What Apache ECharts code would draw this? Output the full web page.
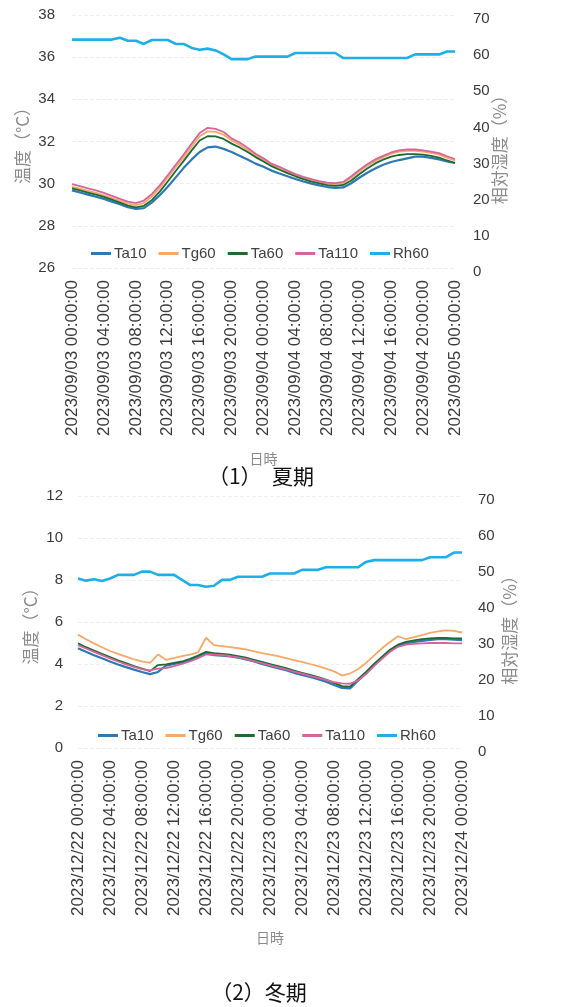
<!DOCTYPE html>
<html>
<head>
<meta charset="utf-8">
<script src="https://cdn.jsdelivr.net/npm/echarts@6/dist/echarts.min.js"></script>
<style>
html,body{margin:0;padding:0;background:#fff;}
#chart{width:579px;height:1007px;}
</style>
</head>
<body>
<div id="chart"></div>
<script>
// ---------- DATA ----------
const seriesNames = ['Ta10', 'Tg60', 'Ta60', 'Ta110', 'Rh60'];
const summerStart = [2023, 9, 3];
const winterStart = [2023, 12, 22];
const hourCount = 49;

// Summer (2023/09/03 00:00 - 2023/09/05 00:00), hourly
const summerTa10 = [29.68,29.58,29.48,29.38,29.28,29.15,29.02,28.88,28.80,28.84,29.10,29.45,29.85,30.30,30.75,31.15,31.50,31.72,31.76,31.65,31.50,31.32,31.15,30.95,30.80,30.62,30.48,30.35,30.22,30.10,30.00,29.92,29.84,29.80,29.82,30.02,30.28,30.52,30.72,30.90,31.03,31.12,31.20,31.28,31.28,31.22,31.15,31.05,30.98];
const summerTg60 = [29.85,29.76,29.66,29.56,29.45,29.32,29.18,29.05,28.98,29.08,29.38,29.80,30.28,30.78,31.25,31.75,32.25,32.48,32.46,32.32,32.05,31.85,31.60,31.35,31.13,30.90,30.74,30.56,30.40,30.27,30.16,30.07,30.00,29.98,30.03,30.28,30.57,30.85,31.08,31.26,31.42,31.52,31.56,31.56,31.52,31.46,31.38,31.22,31.10];
const summerTa60 = [29.78,29.68,29.58,29.48,29.37,29.24,29.10,28.96,28.88,28.95,29.22,29.62,30.10,30.60,31.08,31.58,32.05,32.25,32.24,32.12,31.90,31.72,31.50,31.26,31.05,30.83,30.66,30.50,30.35,30.22,30.10,30.01,29.93,29.90,29.94,30.15,30.45,30.72,30.96,31.14,31.28,31.36,31.40,31.40,31.38,31.32,31.24,31.10,30.98];
const summerTa110 = [29.98,29.88,29.78,29.68,29.56,29.42,29.28,29.15,29.08,29.20,29.50,29.92,30.40,30.90,31.38,31.90,32.40,32.65,32.60,32.45,32.15,31.95,31.70,31.42,31.20,30.95,30.80,30.62,30.45,30.32,30.22,30.12,30.05,30.03,30.08,30.35,30.65,30.92,31.15,31.32,31.48,31.58,31.62,31.62,31.58,31.52,31.45,31.30,31.17];
const summerRh60 = [64.3,64.3,64.3,64.3,64.3,64.3,64.8,64.0,64.0,63.1,64.2,64.2,64.2,63.1,63.1,62.0,61.5,61.8,61.3,60.2,58.9,58.9,58.9,59.6,59.6,59.6,59.6,59.6,60.6,60.6,60.6,60.6,60.6,60.6,59.2,59.2,59.2,59.2,59.2,59.2,59.2,59.2,59.2,60.2,60.2,60.2,60.2,61.0,61.0];

// Winter (2023/12/22 00:00 - 2023/12/24 00:00), hourly
const winterTa10 = [4.75,4.58,4.42,4.27,4.12,3.98,3.85,3.73,3.62,3.52,3.62,3.92,4.00,4.08,4.18,4.35,4.50,4.42,4.40,4.36,4.30,4.22,4.12,4.00,3.90,3.80,3.70,3.58,3.48,3.38,3.28,3.16,3.00,2.86,2.84,3.20,3.55,3.95,4.30,4.65,4.88,4.98,5.05,5.10,5.15,5.18,5.18,5.16,5.14];
const winterTg60 = [5.40,5.18,4.98,4.80,4.62,4.48,4.35,4.22,4.12,4.05,4.45,4.20,4.28,4.38,4.45,4.55,5.25,4.90,4.85,4.80,4.75,4.70,4.60,4.52,4.45,4.38,4.28,4.18,4.10,4.00,3.90,3.78,3.65,3.45,3.55,3.75,4.05,4.40,4.75,5.05,5.32,5.18,5.28,5.38,5.48,5.55,5.60,5.58,5.50];
const winterTa60 = [4.98,4.80,4.64,4.48,4.33,4.18,4.04,3.90,3.78,3.66,3.95,3.98,4.05,4.12,4.25,4.40,4.58,4.52,4.48,4.44,4.38,4.30,4.20,4.10,4.00,3.90,3.80,3.68,3.58,3.48,3.38,3.26,3.10,2.95,2.92,3.28,3.62,4.00,4.35,4.68,4.92,5.05,5.12,5.18,5.22,5.24,5.24,5.22,5.22];
const winterTa110 = [4.90,4.74,4.58,4.42,4.27,4.12,3.98,3.86,3.76,3.70,3.78,3.80,3.90,4.00,4.12,4.28,4.45,4.45,4.42,4.38,4.32,4.24,4.14,4.04,3.94,3.84,3.74,3.64,3.54,3.44,3.34,3.24,3.14,3.08,3.06,3.22,3.52,3.90,4.25,4.58,4.82,4.92,4.96,4.98,5.00,5.00,5.00,4.98,4.98];
const winterRh60 = [48.2,47.6,48.0,47.5,48.2,49.2,49.2,49.2,50.1,50.1,49.2,49.2,49.2,47.8,46.4,46.4,45.9,46.2,47.8,47.8,48.7,48.7,48.7,48.7,49.6,49.6,49.6,49.6,50.6,50.6,50.6,51.3,51.3,51.3,51.3,51.3,52.8,53.3,53.3,53.3,53.3,53.3,53.3,53.3,54.1,54.1,54.1,55.4,55.4];

// axis ranges / ticks
const summerTempAxis = {min: 26, max: 38, interval: 2};
const winterTempAxis = {min: 0, max: 12, interval: 2};
const rhAxis = {min: 0, max: 70, interval: 10};
const tempAxisName = '温度（°C）';
const rhAxisName = '相対湿度（%）';
const xAxisName = '日時';
const captions = ['（1）　夏期', '（2）冬期'];

// ---------- helpers ----------
function pad(n){ return (n < 10 ? '0' : '') + n; }
function makeTimes(start, n){
  const out = [];
  const base = Date.UTC(start[0], start[1]-1, start[2]);
  for (let i = 0; i < n; i++) {
    const d = new Date(base + i * 3600 * 1000);
    out.push(d.getUTCFullYear() + '/' + pad(d.getUTCMonth()+1) + '/' + pad(d.getUTCDate()) + ' ' + pad(d.getUTCHours()) + ':00:00');
  }
  return out;
}
const summerTimes = makeTimes(summerStart, hourCount);
const winterTimes = makeTimes(winterStart, hourCount);

const colors = {Ta10:'#2e78b4', Tg60:'#f6a868', Ta60:'#1f6a32', Ta110:'#d8659a', Rh60:'#1eaee8'};
const FONT = 'Liberation Sans';
const CJK = 'Noto Sans CJK JP';

function xAxisVisible(grid, data, gap){
  return {
    gridIndex: grid, type: 'category', data: data, boundaryGap: false,
    axisLine: {show: false}, axisTick: {show: false}, splitLine: {show: false},
    axisLabel: {interval: 3, rotate: 90, fontSize: 17, margin: 12, color: '#3a3a3a', fontFamily: FONT},
    name: xAxisName, nameLocation: 'middle', nameGap: gap,
    nameTextStyle: {fontSize: 14, color: '#8a8a8a', fontFamily: CJK}
  };
}
function xAxisHidden(grid, data){
  return {gridIndex: grid, type: 'category', data: data, boundaryGap: false, show: false};
}
function tempY(grid, rng, margin, gap){
  return {
    gridIndex: grid, type: 'value', position: 'left', min: rng.min, max: rng.max, interval: rng.interval,
    axisLine: {show: false}, axisTick: {show: false},
    splitLine: {show: true, lineStyle: {color: '#efefef', type: 'dashed', width: 1}},
    axisLabel: {fontSize: 15, color: '#3a3a3a', margin: margin, fontFamily: FONT},
    name: tempAxisName, nameLocation: 'middle', nameRotate: 90, nameGap: gap, nameMoveOverlap: false,
    nameTextStyle: {fontSize: 17, color: '#8a8a8a', fontFamily: CJK}
  };
}
function rhY(grid, margin, gap){
  return {
    gridIndex: grid, type: 'value', position: 'right', min: rhAxis.min, max: rhAxis.max, interval: rhAxis.interval,
    axisLine: {show: false}, axisTick: {show: false}, splitLine: {show: false},
    axisLabel: {fontSize: 15, color: '#3a3a3a', margin: margin, fontFamily: FONT},
    name: rhAxisName, nameLocation: 'middle', nameRotate: 90, nameGap: gap, nameMoveOverlap: false,
    nameTextStyle: {fontSize: 17, color: '#8a8a8a', fontFamily: CJK}
  };
}
function line(name, data, xi, yi, width){
  return {
    name: name, type: 'line', data: data, xAxisIndex: xi, yAxisIndex: yi,
    symbol: 'none', smooth: false, color: colors[name],
    lineStyle: {width: width, color: colors[name]}
  };
}
function legend(left, top){
  return {
    left: left, top: top, itemWidth: 20, itemHeight: 3, itemGap: 12,
    icon: 'rect',
    textStyle: {fontSize: 15, color: '#404040', fontFamily: FONT, padding: [0,0,0,-2]},
    data: seriesNames
  };
}
function grid(left, right, top, height){
  return {left: left, right: right, top: top, height: height, outerBoundsMode: 'none', containLabel: false};
}

const option = {
  animation: false,
  backgroundColor: '#ffffff',
  grid: [
    grid(72, 124, 15, 253),
    grid(72, 124, 19, 253),
    grid(78, 117, 496, 252),
    grid(78, 117, 500, 252)
  ],
  xAxis: [
    xAxisVisible(0, summerTimes, 184), xAxisHidden(1, summerTimes),
    xAxisVisible(2, winterTimes, 183), xAxisHidden(3, winterTimes)
  ],
  yAxis: [
    tempY(0, summerTempAxis, 17, 41), rhY(1, 18, 36),
    tempY(2, winterTempAxis, 15, 39), rhY(3, 16, 39)
  ],
  legend: [legend(86, 241), legend(93, 723)],
  series: [
    line('Ta10', summerTa10, 0, 0, 2.2),
    line('Tg60', summerTg60, 0, 0, 1.8),
    line('Ta60', summerTa60, 0, 0, 1.8),
    line('Ta110', summerTa110, 0, 0, 1.8),
    line('Rh60', summerRh60, 1, 1, 2.6),
    line('Ta10', winterTa10, 2, 2, 2.2),
    line('Tg60', winterTg60, 2, 2, 1.8),
    line('Ta60', winterTa60, 2, 2, 1.8),
    line('Ta110', winterTa110, 2, 2, 1.8),
    line('Rh60', winterRh60, 3, 3, 2.6)
  ],
  graphic: [
    {type: 'text', x: 261, y: 476, style: {text: captions[0], font: '21px "Noto Sans CJK JP"', fill: '#111', align: 'center', verticalAlign: 'middle'}},
    {type: 'text', x: 259, y: 992, style: {text: captions[1], font: '21px "Noto Sans CJK JP"', fill: '#111', align: 'center', verticalAlign: 'middle'}}
  ]
};

const chart = echarts.init(document.getElementById('chart'), null, {renderer: 'canvas'});
chart.setOption(option);
</script>
</body>
</html>
